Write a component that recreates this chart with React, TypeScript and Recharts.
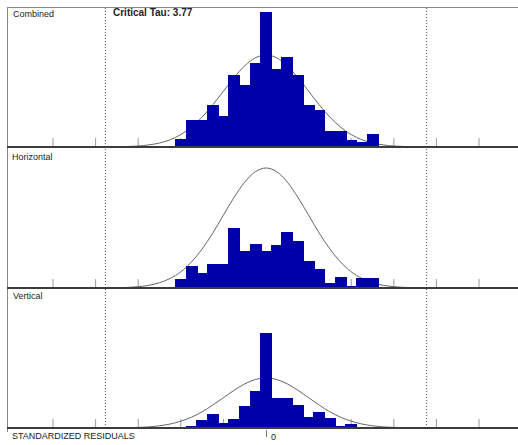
import { ComposedChart, Bar, Line, XAxis, YAxis, ReferenceLine } from "recharts";

// histogram bin centres (standardized residual units)
const binCenters = [
  -2.25, -2, -1.75, -1.5, -1.25, -1, -0.75, -0.5, -0.25, 0,
  0.25, 0.5, 0.75, 1, 1.25, 1.5, 1.75, 2, 2.25, 2.5,
];
const combinedCounts = [0, 8, 27, 27, 42, 31, 72, 62, 84, 135, 78, 90, 72, 42, 37, 16, 16, 7, 5, 13];
const horizontalCounts = [0, 9, 22, 15, 24, 24, 60, 37, 44, 37, 43, 56, 47, 27, 19, 5, 11, 2, 10, 10];
const verticalCounts = [0, 0, 2, 8, 14, 5, 9, 22, 37, 95, 30, 30, 23, 11, 16, 10, 2, 4, 0, 0];

// fitted normal curve, read at 0.25 steps
const curveX = [
  -3.5, -3.25, -3, -2.75, -2.5, -2.25, -2, -1.75, -1.5, -1.25, -1, -0.75, -0.5, -0.25, 0,
  0.25, 0.5, 0.75, 1, 1.25, 1.5, 1.75, 2, 2.25, 2.5, 2.75, 3, 3.25, 3.5,
];
const combinedCurve = [
  0.2, 0.5, 1.0, 2.1, 4.0, 7.3, 12.4, 19.9, 29.9, 42.1, 55.8, 69.4, 81.2, 89.2, 92,
  89.2, 81.2, 69.4, 55.8, 42.1, 29.9, 19.9, 12.4, 7.3, 4.0, 2.1, 1.0, 0.5, 0.2,
];
const horizontalCurve = [
  0.3, 0.6, 1.3, 2.7, 5.3, 9.6, 16.2, 26.0, 39.0, 54.9, 72.8, 90.6, 105.9, 116.3, 120,
  116.3, 105.9, 90.6, 72.8, 54.9, 39.0, 26.0, 16.2, 9.6, 5.3, 2.7, 1.3, 0.6, 0.3,
];
const verticalCurve = [
  0.1, 0.3, 0.6, 1.1, 2.2, 4.0, 6.8, 10.8, 16.2, 22.9, 30.3, 37.7, 44.1, 48.5, 50,
  48.5, 44.1, 37.7, 30.3, 22.9, 16.2, 10.8, 6.8, 4.0, 2.2, 1.1, 0.6, 0.3, 0.1,
];

const axisTicks = [-5, -4, -3, -2, -1, 0, 1, 2, 3, 4, 5];
const criticalTau = 3.77;

const BLUE = "#0000a8";
const font = "'Liberation Sans', Arial, sans-serif";
const X_DOMAIN: [number, number] = [-6.08, 5.915];
const CHART = { width: 511, height: 142, margin: { top: 0, right: 0, bottom: 2, left: 0 } };

function buildRows(counts: number[], curve: number[]) {
  return curveX.map((x, i) => {
    const b = binCenters.indexOf(x);
    return { x, curve: curve[i], count: b >= 0 && counts[b] > 0 ? counts[b] : null };
  });
}

// bars drawn a bit wider so neighbours touch like a histogram
const HistBar = (p: any) => {
  if (!p.height) return null;
  return (
    <rect
      x={Math.floor(p.x - 1)}
      y={p.y}
      width={Math.ceil(p.width + 2)}
      height={p.height}
      fill={BLUE}
      shapeRendering="crispEdges"
    />
  );
};

function Panel({ counts, curve, top }: { counts: number[]; curve: number[]; top: number }) {
  const rows = buildRows(counts, curve);
  const axes = [
    <XAxis key="x" dataKey="x" type="number" domain={X_DOMAIN} allowDataOverflow hide />,
    <YAxis key="y" type="number" domain={[0, 140]} allowDataOverflow hide />,
  ];
  return (
    <div style={{ position: "absolute", left: 7, top, width: 511, height: 142 }}>
      {/* normal curve sits behind the bars */}
      <div style={{ position: "absolute", left: 0, top: 0 }}>
        <ComposedChart {...CHART} data={rows}>
          {axes}
          <ReferenceLine x={-criticalTau} stroke="#555" strokeDasharray="1 2" />
          <ReferenceLine x={criticalTau} stroke="#555" strokeDasharray="1 2" />
          {axisTicks.map((t) => (
            <ReferenceLine
              key={t}
              segment={[{ x: t, y: 0 }, { x: t, y: 9 }]}
              stroke="#999"
              ifOverflow="visible"
            />
          ))}
          <Line
            dataKey="curve"
            type="monotone"
            stroke="#666"
            strokeWidth={1}
            dot={false}
            isAnimationActive={false}
          />
        </ComposedChart>
      </div>
      <div style={{ position: "absolute", left: 0, top: 0 }}>
        <ComposedChart {...CHART} data={rows} barCategoryGap={0} barGap={0}>
          {axes}
          <Bar dataKey="count" fill={BLUE} barSize={11} shape={HistBar} isAnimationActive={false} />
          <ReferenceLine y={0} stroke="#3c3c3c" strokeWidth={2} ifOverflow="visible" />
        </ComposedChart>
      </div>
    </div>
  );
}

const label = (text: string, left: number, top: number, bold = false) => (
  <div
    style={{
      position: "absolute",
      left,
      top,
      fontFamily: font,
      fontSize: bold ? 10 : 9,
      fontWeight: bold ? 700 : 400,
      color: "#222",
      lineHeight: "10px",
      whiteSpace: "nowrap",
    }}
  >
    {text}
  </div>
);

export default function App() {
  return (
    <div
      style={{
        position: "absolute",
        left: 0,
        top: 0,
        width: 518,
        height: 445,
        background: "#fff",
        overflow: "hidden",
      }}
    >
      <div
        style={{
          position: "absolute",
          left: 7,
          top: 7,
          width: 520,
          height: 424,
          borderLeft: "1px solid #888",
          borderTop: "1px solid #888",
        }}
      />
      <Panel counts={combinedCounts} curve={combinedCurve} top={7} />
      <Panel counts={horizontalCounts} curve={horizontalCurve} top={148} />
      <Panel counts={verticalCounts} curve={verticalCurve} top={288} />
      {label("Combined", 13, 9)}
      {label("Critical Tau:  3.77", 113, 8, true)}
      {label("Horizontal", 12, 152)}
      {label("Vertical", 13, 291)}
      {label("STANDARDIZED RESIDUALS", 12, 431)}
      <div style={{ position: "absolute", left: 266, top: 430, width: 1, height: 7, background: "#777" }} />
      {label("0", 271, 432)}
    </div>
  );
}
